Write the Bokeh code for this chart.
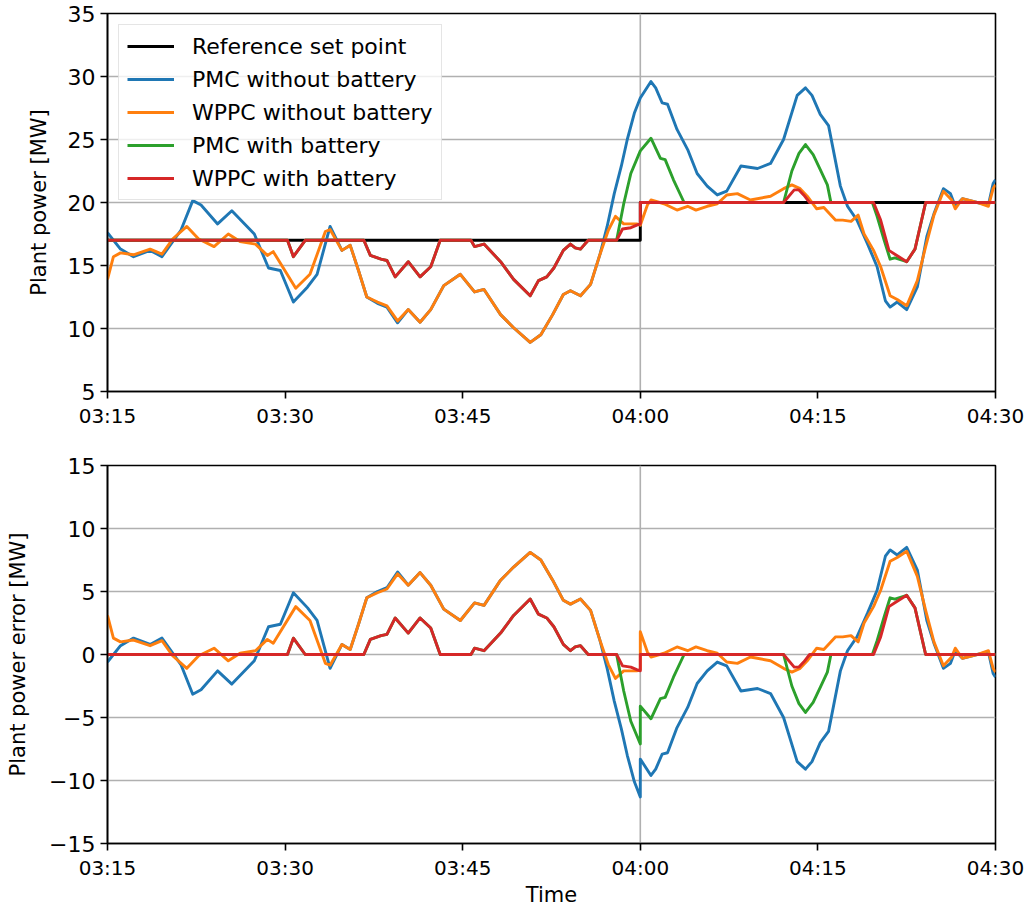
import numpy as np
import pandas as pd
from bokeh.plotting import figure
from bokeh.layouts import column
from bokeh.models import FixedTicker, DatetimeTickFormatter, Span, Range1d
from bokeh.embed import file_html
from bokeh.resources import INLINE

# ---------------- data (minutes after 03:15, MW) ----------------
tick_labels = ["03:15", "03:30", "03:45", "04:00", "04:15", "04:30"]
step_label = "04:00"

ref_t = [0, 45, 45, 75]
ref_v = [17, 17, 20, 20]

pmc_nobat_t = [0, 1.1, 2.2, 3.6, 4.6, 6.2, 7.2, 7.9, 9.3, 10.5,
               12.4, 13.6, 14.6, 15.7, 16.9, 17.7, 18.8, 19.8, 20.5, 21.2,
               21.9, 22.8, 23.6, 24.5, 25.4, 26.4, 27.3, 28.4, 29.8, 31.0,
               31.8, 33.2, 34.3, 35.7, 36.6, 37.6, 38.5, 39.1, 39.95, 40.8,
               41.6, 42.2, 42.8, 43.4, 43.9, 44.5, 45.0, 45.0, 45.9, 46.3,
               46.85, 47.3, 48.1, 49.0, 49.8, 50.65, 51.5, 52.3, 53.5, 54.9,
               56.0, 57.1, 58.25, 58.95, 59.5, 60.2, 60.9, 61.4, 61.9, 62.5,
               63.3, 64.2, 65.0, 65.7, 66.1, 66.7, 67.5, 68.4, 69.2, 69.8,
               70.6, 71.2, 71.6, 72.2, 73.45, 74.4, 74.8, 75]
pmc_nobat_v = [17.6, 16.3, 15.7, 16.2, 15.7, 17.8, 20.15, 19.8, 18.3, 19.35,
               17.5, 14.8, 14.6, 12.1, 13.3, 14.3, 18.1, 16.2, 16.6, 14.6,
               12.5, 12.0, 11.7, 10.45, 11.5, 10.5, 11.5, 13.4, 14.3, 12.9,
               13.1, 11.1, 10.06, 8.9, 9.5, 11.1, 12.7, 13.0, 12.6, 13.5,
               15.9, 18.1, 20.7, 22.9, 25.0, 27.1, 28.3, 28.3, 29.6, 29.1,
               27.9, 27.8, 25.8, 24.2, 22.3, 21.3, 20.6, 20.9, 22.9, 22.7,
               23.1, 25.0, 28.5, 29.1, 28.5, 27.0, 26.1, 23.7, 21.3, 19.7,
               18.6, 16.7, 14.9, 12.2, 11.7, 12.1, 11.5, 13.3, 17.3, 19.1,
               21.1, 20.7, 19.7, 20.3, 20.0, 19.8, 21.5, 21.8]

wppc_nobat_t = [0, 0.5, 1.1, 2.2, 3.6, 4.6, 5.5, 6.7, 7.7, 9.0,
                10.2, 11.2, 12.5, 13.5, 14.0, 15.9, 17.1, 18.4, 18.8, 19.8,
                20.5, 21.2, 21.9, 22.8, 23.6, 24.5, 25.4, 26.4, 27.3, 28.4,
                29.8, 31.0, 31.8, 33.2, 34.3, 35.7, 36.6, 37.6, 38.5, 39.1,
                39.95, 40.8, 41.6, 42.3, 42.9, 43.6, 44.7, 45.0, 45.0, 45.6,
                45.9, 47.0, 48.1, 49.0, 49.7, 50.65, 51.5, 52.3, 53.2, 54.3,
                56.0, 57.1, 57.8, 58.5, 59.1, 59.9, 60.5, 61.5, 62.1, 62.8,
                63.4, 63.9, 64.7, 65.3, 66.1, 66.7, 67.5, 68.4, 69.1, 69.8,
                70.6, 71.3, 71.6, 72.2, 73.45, 74.4, 74.8, 75]
wppc_nobat_v = [13.9, 15.7, 16.0, 15.85, 16.3, 15.9, 17.1, 18.1, 17.1, 16.5,
                17.5, 16.9, 16.7, 15.8, 16.1, 13.2, 14.3, 17.7, 17.85, 16.2,
                16.6, 14.6, 12.5, 12.1, 11.8, 10.6, 11.5, 10.5, 11.5, 13.4,
                14.3, 12.9, 13.1, 11.1, 10.06, 8.9, 9.5, 11.1, 12.7, 13.0,
                12.6, 13.5, 15.9, 17.8, 18.9, 18.3, 18.3, 18.2, 18.2, 19.8,
                20.2, 19.9, 19.4, 19.7, 19.4, 19.7, 19.9, 20.6, 20.7, 20.2,
                20.5, 21.1, 21.4, 21.1, 20.5, 19.5, 19.6, 18.6, 18.6, 18.5,
                19.0, 17.5, 16.2, 14.9, 12.6, 12.3, 11.8, 13.8, 16.5, 19.0,
                20.9, 20.2, 19.5, 20.3, 20.0, 19.7, 21.1, 21.4]

pmc_bat_t = [0, 15.2, 15.7, 16.7, 21.65, 22.2, 23.1, 23.6, 24.3, 25.4,
             26.4, 27.3, 28.1, 30.7, 31.0, 31.8, 33.2, 34.3, 35.7, 36.4,
             37.1, 37.7, 38.5, 39.1, 39.5, 39.95, 40.6, 43.0, 43.6, 44.2,
             45.0, 45.0, 45.9, 46.7, 47.1, 47.8, 48.7, 57.1, 57.8, 58.4,
             58.95, 59.6, 60.2, 60.8, 61.1, 64.6, 65.0, 65.6, 66.1, 66.5,
             67.5, 68.2, 69.1, 75]
pmc_bat_v = [17, 17, 15.7, 17, 17, 15.8, 15.5, 15.4, 14.1, 15.3,
             14.1, 14.9, 17, 17, 16.5, 16.7, 15.3, 13.9, 12.6, 13.8,
             14.1, 14.8, 16.2, 16.7, 16.4, 16.3, 17, 17, 19.9, 22.3,
             24.1, 24.1, 25.1, 23.5, 23.4, 21.8, 20, 20, 22.5, 23.9,
             24.6, 23.8, 22.6, 21.4, 20, 20, 18.9, 17.0, 15.5, 15.6,
             15.3, 16.3, 20, 20]

wppc_bat_t = [0, 15.2, 15.7, 16.7, 21.65, 22.2, 23.1, 23.6, 24.3, 25.4,
              26.4, 27.3, 28.1, 30.7, 31.0, 31.8, 33.2, 34.3, 35.7, 36.4,
              37.1, 37.7, 38.5, 39.1, 39.5, 39.95, 40.6, 43.0, 43.5, 44.2,
              44.7, 45.0, 45.0, 57.1, 58.0, 58.4, 58.8, 59.3, 64.7, 65.3,
              66.0, 66.5, 67.5, 68.2, 69.1, 75]
wppc_bat_v = [17, 17, 15.7, 17, 17, 15.8, 15.5, 15.4, 14.1, 15.3,
              14.1, 14.9, 17, 17, 16.5, 16.7, 15.3, 13.9, 12.6, 13.8,
              14.1, 14.8, 16.2, 16.7, 16.4, 16.3, 17, 17, 17.9, 18.0,
              18.2, 18.3, 20, 20, 21.0, 21.0, 20.6, 20, 20, 18.6,
              16.2, 15.9, 15.3, 16.3, 20, 20]

series_names = ["PMC without battery", "WPPC without battery",
                "PMC with battery", "WPPC with battery"]
series_colors = ["#1f77b4", "#ff7f0e", "#2ca02c", "#d62728"]
series_data = [(pmc_nobat_t, pmc_nobat_v), (wppc_nobat_t, wppc_nobat_v),
               (pmc_bat_t, pmc_bat_v), (wppc_bat_t, wppc_bat_v)]

# ---------------- helpers ----------------
DAY = "2020-01-01 "
BASE = pd.Timestamp(DAY + tick_labels[0])
EPOCH = pd.Timestamp(0)


def to_dt(t):
    return BASE + pd.to_timedelta(np.asarray(t, dtype=float), unit="m")


def to_ms(label):
    return (pd.Timestamp(DAY + label) - EPOCH).total_seconds() * 1000.0


step_t = ref_t[1]


def ref_at(t):
    """Set point seen by each sample; a doubled sample at the step gets before/after."""
    out, seen = [], False
    for x in t:
        if x < step_t:
            out.append(ref_v[0])
        elif x == step_t and not seen:
            out.append(ref_v[0])
            seen = True
        else:
            out.append(ref_v[-1])
    return np.array(out, dtype=float)


FONT = "DejaVu Sans"
LW = 2.9
tick_ms = [to_ms(s) for s in tick_labels]


def make_fig(ylo, yhi, ylabel, top_b, bottom_b, lab_standoff, overrides=None):
    p = figure(x_axis_type="datetime", frame_width=888, frame_height=378,
               min_border_left=107, min_border_right=36,
               min_border_top=top_b, min_border_bottom=bottom_b,
               x_range=Range1d(to_dt([ref_t[0]])[0], to_dt([ref_t[-1]])[0]),
               y_range=Range1d(ylo, yhi),
               toolbar_location=None, output_backend="svg")
    p.xaxis.ticker = FixedTicker(ticks=tick_ms)
    fmt = "%H:%M"
    p.xaxis.formatter = DatetimeTickFormatter(
        microseconds=fmt, milliseconds=fmt, seconds=fmt, minsec=fmt,
        minutes=fmt, hourmin=fmt, hours=fmt, days=fmt, months=fmt, years=fmt)
    p.yaxis.ticker = FixedTicker(ticks=list(range(ylo, yhi + 1, 5)))
    if overrides:
        p.yaxis.major_label_overrides = overrides
    p.yaxis.axis_label = ylabel
    p.yaxis.axis_label_standoff = lab_standoff
    for ax in (p.xaxis, p.yaxis):
        ax.axis_line_width = 1.6
        ax.axis_line_color = "black"
        ax.major_tick_line_width = 1.6
        ax.major_tick_line_color = "black"
        ax.major_tick_out = 7
        ax.major_tick_in = 0
        ax.minor_tick_line_color = None
        ax.major_label_text_font = FONT
        ax.major_label_text_color = "black"
        ax.axis_label_text_font = FONT
        ax.axis_label_text_font_size = "21px"
        ax.axis_label_text_font_style = "normal"
        ax.axis_label_text_color = "black"
        ax.major_label_standoff = 5
    p.xaxis.major_label_text_font_size = "20px"
    p.yaxis.major_label_text_font_size = "22px"
    p.xgrid.visible = False
    p.ygrid.grid_line_color = "#b0b0b0"
    p.ygrid.grid_line_width = 1.6
    p.outline_line_color = "black"
    p.outline_line_width = 1.6
    p.outline_line_alpha = 1.0
    p.add_layout(Span(location=to_ms(step_label), dimension="height",
                      line_color="#b0b0b0", line_width=1.6, level="underlay"))
    p.background_fill_color = "white"
    p.border_fill_color = "white"
    return p


# ---------------- top panel: plant power ----------------
p1 = make_fig(5, 35, "Plant power [MW]", 13, 44, 14)
p1.line(to_dt(ref_t), ref_v, line_color="black", line_width=LW,
        line_join="round", legend_label="Reference set point")
for name, col, (t, v) in zip(series_names, series_colors, series_data):
    p1.line(to_dt(t), v, line_color=col, line_width=LW, line_join="round",
            legend_label=name)

lg = p1.legend[0]
lg.location = "top_left"
lg.margin = 11
lg.padding = 8
lg.spacing = 7
lg.label_height = 26
lg.glyph_height = 26
lg.glyph_width = 47
lg.label_standoff = 18
lg.label_text_font = FONT
lg.label_text_font_size = "22px"
lg.label_text_color = "black"
lg.border_line_color = "#cccccc"
lg.border_line_width = 1.2
lg.background_fill_color = "white"
lg.background_fill_alpha = 0.8

# ---------------- bottom panel: error = set point - power ----------------
p2 = make_fig(-15, 15, "Plant power error [MW]", 30, 66, 16,
              overrides={-15: "\u221215", -10: "\u221210", -5: "\u22125"})
p2.xaxis.axis_label = "Time"
p2.xaxis.axis_label_standoff = 0
for name, col, (t, v) in zip(series_names, series_colors, series_data):
    err = ref_at(t) - np.asarray(v, dtype=float)
    p2.line(to_dt(t), err, line_color=col, line_width=LW, line_join="round")

layout = column(p1, p2, spacing=0)
open("out.html", "w").write(file_html(layout, INLINE))
